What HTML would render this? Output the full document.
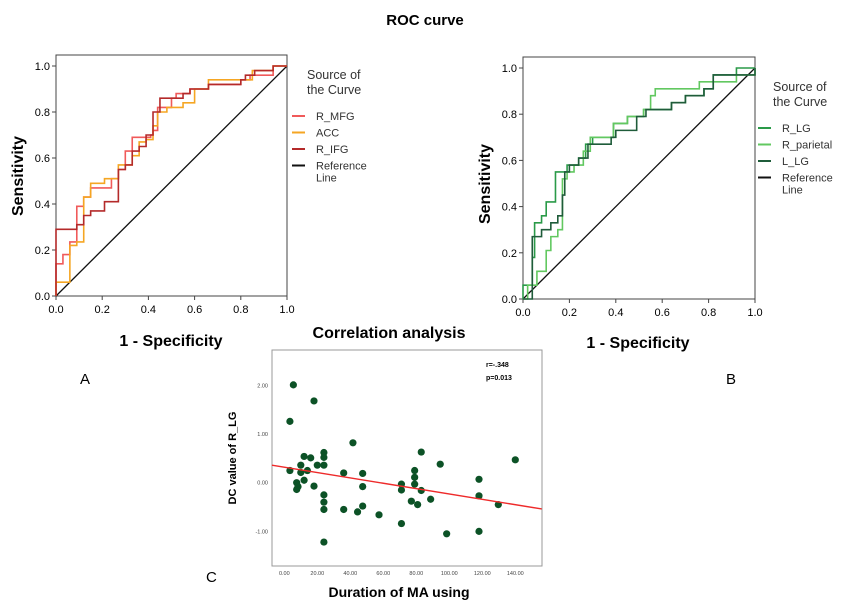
<!DOCTYPE html>
<html><head><meta charset="utf-8"><style>
body{margin:0;background:#fff;font-family:"Liberation Sans",Arial,sans-serif}
svg{display:block}
</style></head><body>
<svg id="s" width="850" height="601" xmlns="http://www.w3.org/2000/svg" font-family="Liberation Sans, Arial, sans-serif">
<text x="425" y="25" text-anchor="middle" font-size="15" font-weight="bold">ROC curve</text>
<g id="gA"></g>
<g id="gB"></g>
<g id="gC"></g>
<text x="80" y="384" font-size="15">A</text>
<text x="726" y="384" font-size="15">B</text>
<text x="206" y="582" font-size="15">C</text>
</svg>
<script>
// Panel A data (step vertices: horizontal to fpr, then vertical to tpr)
const aMfgFpr=[0,0.03,0.06,0.09,0.12,0.15,0.24,0.27,0.30,0.33,0.41,0.42,0.44,0.50,0.52,0.58,0.66,0.80,0.84,0.94,1.0];
const aMfgTpr=[0.14,0.18,0.235,0.39,0.43,0.47,0.51,0.55,0.63,0.69,0.70,0.72,0.82,0.86,0.88,0.90,0.92,0.94,0.96,1.0,1.0];
const aAccFpr=[0,0.06,0.09,0.12,0.15,0.21,0.27,0.33,0.36,0.39,0.42,0.44,0.48,0.55,0.60,0.66,0.85,0.94,1.0];
const aAccTpr=[0.06,0.22,0.235,0.43,0.49,0.51,0.57,0.61,0.67,0.68,0.74,0.80,0.82,0.84,0.90,0.94,0.98,1.0,1.0];
const aIfgFpr=[0,0.09,0.12,0.15,0.21,0.27,0.30,0.33,0.36,0.39,0.42,0.45,0.55,0.58,0.66,0.80,0.82,0.86,0.94,1.0];
const aIfgTpr=[0.29,0.31,0.35,0.37,0.41,0.55,0.57,0.63,0.65,0.70,0.80,0.86,0.88,0.90,0.92,0.94,0.96,0.98,1.0,1.0];
// Panel B data
const bLgFpr=[0,0.04,0.05,0.08,0.10,0.14,0.19,0.24,0.27,0.30,0.39,0.45,0.52,0.64,0.70,0.78,0.82,0.92,1.0];
const bLgTpr=[0.06,0.18,0.33,0.36,0.42,0.55,0.58,0.61,0.67,0.70,0.76,0.79,0.82,0.85,0.88,0.91,0.97,1.0,1.0];
const bParFpr=[0,0.02,0.06,0.10,0.12,0.15,0.17,0.19,0.22,0.26,0.29,0.39,0.45,0.52,0.55,0.57,0.76,0.92,1.0];
const bParTpr=[0,0.06,0.12,0.21,0.27,0.30,0.52,0.55,0.58,0.64,0.70,0.76,0.79,0.82,0.88,0.91,0.94,0.97,1.0];
const bLlgFpr=[0,0.04,0.08,0.12,0.15,0.17,0.18,0.20,0.24,0.28,0.38,0.40,0.49,0.53,0.64,0.70,0.78,0.82,1.0];
const bLlgTpr=[0,0.27,0.30,0.33,0.36,0.45,0.55,0.58,0.61,0.67,0.70,0.73,0.79,0.82,0.85,0.88,0.91,0.97,1.0];
const rocTicks=[0,0.2,0.4,0.6,0.8,1.0];
const rocTickLabels=["0.0","0.2","0.4","0.6","0.8","1.0"];
// Panel C data
const durX=[5.5,18,3.4,41.6,83,24,24,12,16,10,20,24,94.5,140,3.4,14,10,36,47.5,79,79,118,12,7.5,71,79,8.3,7.5,18,47.5,71,83,24,118,88.7,24,77,80.8,129.7,47.5,24,36,44.4,57.4,71,118,98.4,24];
const dcY=[2.01,1.68,1.26,0.82,0.63,0.62,0.52,0.54,0.51,0.36,0.36,0.36,0.38,0.47,0.25,0.25,0.21,0.2,0.19,0.25,0.11,0.07,0.05,0,-0.03,-0.03,-0.08,-0.14,-0.07,-0.08,-0.15,-0.16,-0.25,-0.27,-0.34,-0.40,-0.38,-0.45,-0.45,-0.48,-0.55,-0.55,-0.60,-0.66,-0.84,-1.0,-1.05,-1.22];
const fitX=[-7.5,156];
const fitY=[0.36,-0.54];
const cXTicks=[0,20,40,60,80,100,120,140];
const cXTickLabels=["0.00","20.00","40.00","60.00","80.00","100.00","120.00","140.00"];
const cYTicks=[2,1,0,-1];
const cYTickLabels=["2.00","1.00","0.00","-1.00"];

const NS="http://www.w3.org/2000/svg";
function mk(p,t,a){const e=document.createElementNS(NS,t);for(const k in a)e.setAttribute(k,a[k]);p.appendChild(e);return e;}

function roc(g,x0,x1,y0,y1,top,right,series,legend){
  const sx=v=>x0+v*(x1-x0), sy=v=>y0-v*(y0-y1);
  const fr=mk(g,'rect',{x:x0,y:top,width:right-x0,height:y0-top,fill:'none',stroke:'#444','stroke-width':1});
  
  
  rocTicks.forEach((t,i)=>{
    const tk=mk(g,'line',{x1:sx(t),x2:sx(t),y1:y0,y2:y0+4,stroke:'#444'});
    
    
    const tl=mk(g,'text',{x:sx(t),y:y0+17,'font-size':11,'text-anchor':'middle'});tl.textContent=rocTickLabels[i];
    
    
    const ty=mk(g,'line',{x1:x0-4,x2:x0,y1:sy(t),y2:sy(t),stroke:'#444'});
    
    
    const yl=mk(g,'text',{x:x0-6,y:sy(t)+4,'font-size':11,'text-anchor':'end'});yl.textContent=rocTickLabels[i];
    
    
  });
  const ref=mk(g,'line',{x1:sx(0),y1:sy(0),x2:sx(1),y2:sy(1),stroke:'#111','stroke-width':1.3});
  
  
  series.forEach(s=>{
    let d='M'+sx(0)+','+sy(0);
    for(let i=0;i<s.f.length;i++){d+=' L'+sx(s.f[i])+','+(i?sy(s.t[i-1]):sy(0))+' L'+sx(s.f[i])+','+sy(s.t[i]);}
    const p=mk(g,'path',{d:d,fill:'none',stroke:s.c,'stroke-width':1.6});
    
    
  });
  const L=legend;
  const h1=mk(g,'text',{x:L.x+15,y:L.y,'font-size':12.5,fill:'#333'});h1.textContent='Source of';
  
  
  const h2=mk(g,'text',{x:L.x+15,y:L.y+15,'font-size':12.5,fill:'#333'});h2.textContent='the Curve';
  
  
  const items=series.map(s=>[s.label,s.c]).concat([['Reference','#111']]);
  items.forEach((it,i)=>{
    const y=L.y+L.first+i*16.5;
    const ln=mk(g,'line',{x1:L.x,x2:L.x+13,y1:y,y2:y,stroke:it[1],'stroke-width':2});
    
    
    const tx=mk(g,'text',{x:L.x+24,y:y+4,'font-size':11,fill:'#333'});tx.textContent=it[0];
    
    
    if(i===items.length-1){const t2=mk(g,'text',{x:L.x+24,y:y+16,'font-size':11,fill:'#333'});t2.textContent='Line';
      
      }
  });
}
const gA=document.getElementById('gA'),gB=document.getElementById('gB'),gC=document.getElementById('gC');
roc(gA,56,287,296,66,55,287,[
 {f:aMfgFpr,t:aMfgTpr,c:'#f05a5a',n:'r-mfg-curve',label:'R_MFG'},
 {f:aAccFpr,t:aAccTpr,c:'#f5a623',n:'acc-curve',label:'ACC'},
 {f:aIfgFpr,t:aIfgTpr,c:'#b42a2a',n:'r-ifg-curve',label:'R_IFG'}],{x:292,y:79,first:37});
roc(gB,523,755,299,68,57,755,[
 {f:bLgFpr,t:bLgTpr,c:'#2a9a48',n:'r-lg-curve',label:'R_LG'},
 {f:bParFpr,t:bParTpr,c:'#62c860',n:'r-parietal-curve',label:'R_parietal'},
 {f:bLlgFpr,t:bLlgTpr,c:'#1f5c3a',n:'l-lg-curve',label:'L_LG'}],{x:758,y:91,first:37});
function tt(g,x,y,s,fs,name,rot){const t=mk(g,'text',{x:x,y:y,'font-size':fs,'font-weight':'bold','text-anchor':'middle'});if(rot)t.setAttribute('transform','rotate(-90 '+x+' '+y+')');t.textContent=s;
 
 }
tt(gA,171,346,'1 - Specificity',16,'x-axis-title');
tt(gA,23,176,'Sensitivity',16,'y-axis-title',true);
tt(gB,638,348,'1 - Specificity',16,'x-axis-title');
tt(gB,490,184,'Sensitivity',16,'y-axis-title',true);
tt(gC,389,338,'Correlation analysis',16,'scatter-title');
tt(gC,399,597,'Duration of MA using',14,'x-axis-title');
tt(gC,236,458,'DC value of R_LG',11,'y-axis-title',true);
// scatter
const cx=v=>284.3+v*1.65, cy=v=>482.7-v*48.67;
const cf=mk(gC,'rect',{x:272,y:350,width:270,height:216,fill:'none',stroke:'#999','stroke-width':1});


cXTicks.forEach((t,i)=>{const l=mk(gC,'text',{x:cx(t),y:575,'font-size':5.5,'text-anchor':'middle',fill:'#444'});l.textContent=cXTickLabels[i];
 
 });
cYTicks.forEach((t,i)=>{const l=mk(gC,'text',{x:268,y:cy(t)+2,'font-size':5.5,'text-anchor':'end',fill:'#444'});l.textContent=cYTickLabels[i];
 
 });
durX.forEach((x,i)=>{const c=mk(gC,'circle',{cx:cx(x),cy:cy(dcY[i]),r:3.6,fill:'#0c5226'});
 
 });
const fl=mk(gC,'line',{x1:cx(fitX[0]),y1:cy(fitY[0]),x2:cx(fitX[1]),y2:cy(fitY[1]),stroke:'#ee2a2a','stroke-width':1.4});


const r1=mk(gC,'text',{x:486,y:367,'font-size':7,'font-weight':'bold'});r1.textContent='r=-.348';


const r2=mk(gC,'text',{x:486,y:380,'font-size':7,'font-weight':'bold'});r2.textContent='p=0.013';


</script>
</body></html>
